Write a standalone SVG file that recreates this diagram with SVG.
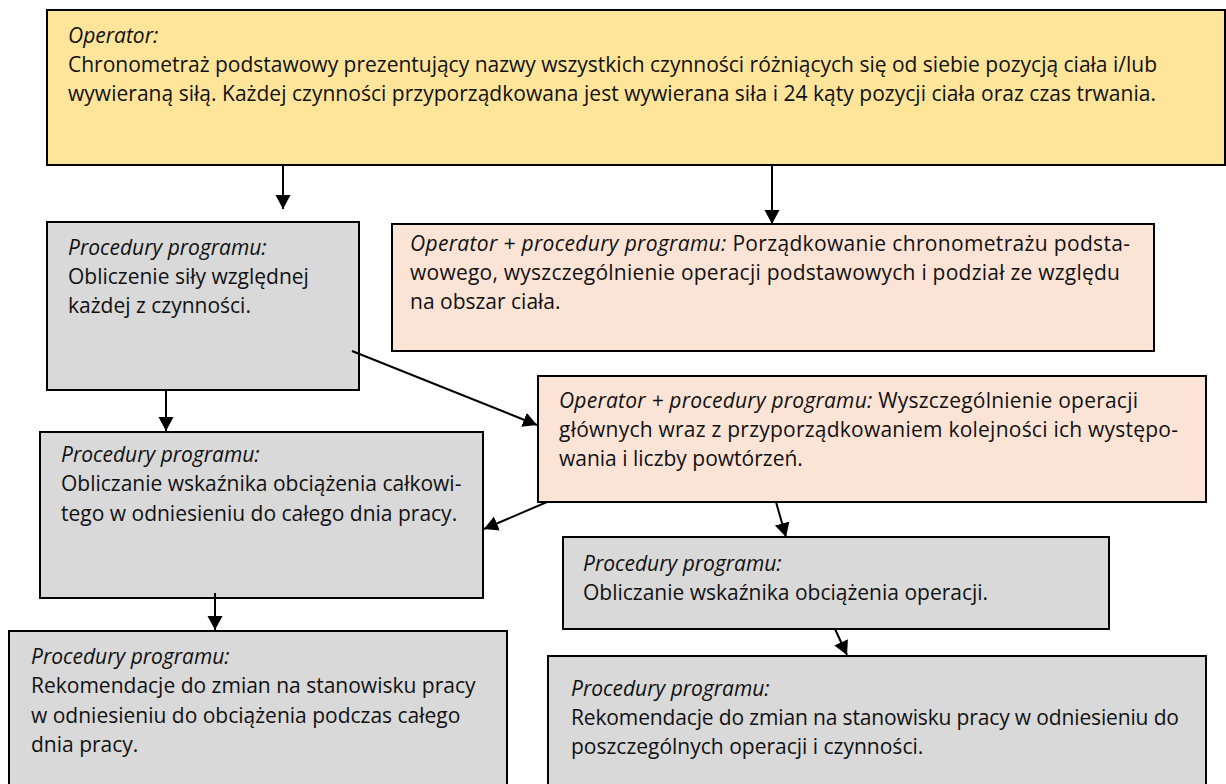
<svg xmlns="http://www.w3.org/2000/svg" width="1226" height="784" viewBox="0 0 1226 784">
<style>
.box{stroke:#000;stroke-width:2}
.yellow{fill:#FFE599}
.salmon{fill:#FBE4D5}
.gray{fill:#D9D9D9}
text{font-family:"Open Sans","Liberation Sans",sans-serif;font-size:21px;fill:#111}
.it{font-style:italic}
.conn{stroke:#000;stroke-width:2;fill:none;marker-end:url(#arr)}
</style>
<defs>
<marker id="arr" markerUnits="userSpaceOnUse" markerWidth="16" markerHeight="16" refX="14" refY="7.5" orient="auto">
<path d="M0,0 L14,7.5 L0,15 Z" fill="#000"/>
</marker>
</defs>
<rect width="1226" height="784" fill="#fff"/>

<g id="n-operator">
<rect class="box yellow" x="47" y="10" width="1178" height="155"/>
<text x="68" y="43" class="it">Operator:</text>
<text x="68" y="72" textLength="1089">Chronometraż podstawowy prezentujący nazwy wszystkich czynności różniących się od siebie pozycją ciała i/lub</text>
<text x="68" y="101" textLength="1088">wywieraną siłą. Każdej czynności przyporządkowana jest wywierana siła i 24 kąty pozycji ciała oraz czas trwania.</text>
</g>

<g id="n-sila">
<rect class="box gray" x="47" y="222" width="312" height="168"/>
<text x="68" y="255" class="it">Procedury programu:</text>
<text x="68" y="284">Obliczenie siły względnej</text>
<text x="68" y="313">każdej z czynności.</text>
</g>

<g id="n-porzadkowanie">
<rect class="box salmon" x="392" y="224" width="762" height="127"/>
<text x="410" y="251" textLength="720"><tspan class="it">Operator + procedury programu:</tspan> Porządkowanie chronometrażu podsta-</text>
<text x="410" y="280" textLength="710">wowego, wyszczególnienie operacji podstawowych i podział ze względu</text>
<text x="410" y="309">na obszar ciała.</text>
</g>

<g id="n-glowne">
<rect class="box salmon" x="538" y="376" width="668" height="126"/>
<text x="559" y="408" textLength="579"><tspan class="it">Operator + procedury programu:</tspan> Wyszczególnienie operacji</text>
<text x="559" y="437" textLength="619">głównych wraz z przyporządkowaniem kolejności ich występo-</text>
<text x="559" y="466">wania i liczby powtórzeń.</text>
</g>

<g id="n-calkowity">
<rect class="box gray" x="40" y="432" width="443" height="166"/>
<text x="61" y="462" class="it">Procedury programu:</text>
<text x="61" y="491">Obliczanie wskaźnika obciążenia całkowi-</text>
<text x="61" y="521">tego w odniesieniu do całego dnia pracy.</text>
</g>

<g id="n-operacji">
<rect class="box gray" x="563" y="537" width="546" height="92"/>
<text x="583" y="571" class="it">Procedury programu:</text>
<text x="583" y="600">Obliczanie wskaźnika obciążenia operacji.</text>
</g>

<g id="n-rek-dzien">
<rect class="box gray" x="9" y="631" width="498" height="170"/>
<text x="31" y="664" class="it">Procedury programu:</text>
<text x="31" y="693">Rekomendacje do zmian na stanowisku pracy</text>
<text x="31" y="723">w odniesieniu do obciążenia podczas całego</text>
<text x="31" y="752">dnia pracy.</text>
</g>

<g id="n-rek-operacje">
<rect class="box gray" x="548" y="656" width="658" height="145"/>
<text x="571" y="696" class="it">Procedury programu:</text>
<text x="571" y="725" textLength="608">Rekomendacje do zmian na stanowisku pracy w odniesieniu do</text>
<text x="571" y="754">poszczególnych operacji i czynności.</text>
</g>

<g id="connectors">
<line class="conn" x1="283" y1="165" x2="283" y2="209"/>
<line class="conn" x1="772" y1="165" x2="772" y2="224"/>
<line class="conn" x1="166" y1="390" x2="166" y2="431"/>
<line class="conn" x1="352" y1="351" x2="537" y2="425"/>
<line class="conn" x1="547" y1="502" x2="484" y2="529"/>
<line class="conn" x1="215" y1="593" x2="215" y2="630"/>
<line class="conn" x1="776" y1="502" x2="786" y2="537"/>
<line class="conn" x1="835" y1="629" x2="847" y2="655"/>
</g>
</svg>
